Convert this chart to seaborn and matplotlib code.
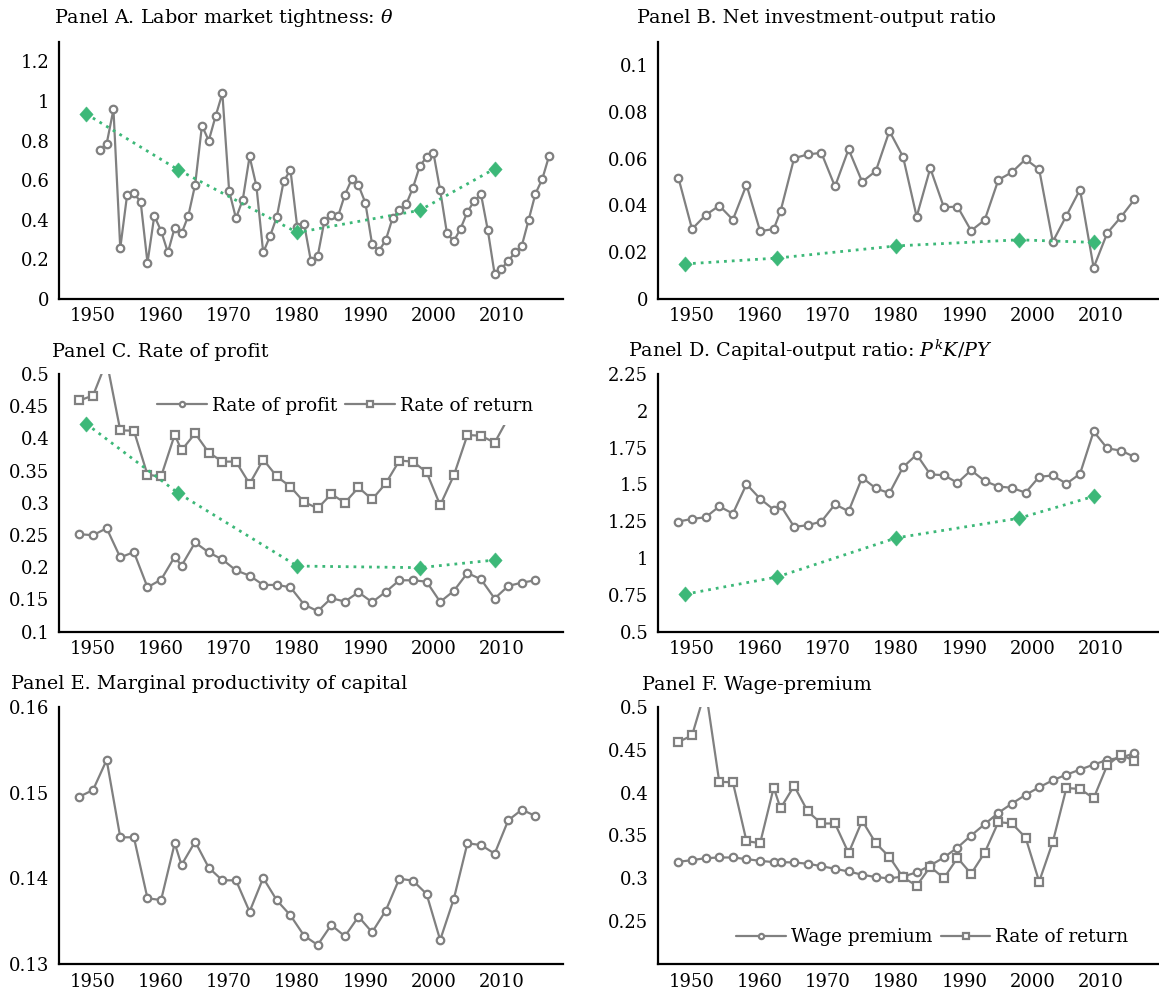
import matplotlib
matplotlib.use("Agg")
import matplotlib.pyplot as plt
import seaborn as sns
import numpy as np
import pandas as pd
from matplotlib.ticker import FixedLocator, FuncFormatter

# ---------------- data ----------------
years_annual = [1951, 1952, 1953, 1954, 1955, 1956, 1957, 1958, 1959, 1960,
                1961, 1962, 1963, 1964, 1965, 1966, 1967, 1968, 1969, 1970,
                1971, 1972, 1973, 1974, 1975, 1976, 1977, 1978, 1979, 1980,
                1981, 1982, 1983, 1984, 1985, 1986, 1987, 1988, 1989, 1990,
                1991, 1992, 1993, 1994, 1995, 1996, 1997, 1998, 1999, 2000,
                2001, 2002, 2003, 2004, 2005, 2006, 2007, 2008, 2009, 2010,
                2011, 2012, 2013, 2014, 2015, 2016, 2017]
theta = [0.755, 0.784, 0.958, 0.257, 0.524, 0.535, 0.490, 0.183, 0.420, 0.344,
         0.235, 0.361, 0.331, 0.421, 0.577, 0.876, 0.800, 0.923, 1.039, 0.545,
         0.408, 0.502, 0.720, 0.571, 0.235, 0.317, 0.415, 0.594, 0.653, 0.364,
         0.381, 0.193, 0.216, 0.396, 0.426, 0.418, 0.527, 0.604, 0.574, 0.487,
         0.277, 0.243, 0.297, 0.408, 0.448, 0.478, 0.562, 0.671, 0.717, 0.740,
         0.549, 0.331, 0.292, 0.356, 0.440, 0.495, 0.529, 0.347, 0.126, 0.153,
         0.193, 0.235, 0.270, 0.400, 0.532, 0.606, 0.723]

years_bien = [1948, 1950, 1952, 1954, 1956, 1958, 1960, 1962, 1963, 1965,
              1967, 1969, 1971, 1973, 1975, 1977, 1979, 1981, 1983, 1985,
              1987, 1989, 1991, 1993, 1995, 1997, 1999, 2001, 2003, 2005,
              2007, 2009, 2011, 2013, 2015]
invest_output = [0.0518, 0.0299, 0.0359, 0.0399, 0.0339, 0.0488, 0.0290, 0.0299, 0.0375, 0.0602,
                 0.0618, 0.0625, 0.0481, 0.0640, 0.0501, 0.0547, 0.0718, 0.0608, 0.0352, 0.0559,
                 0.0392, 0.0395, 0.0292, 0.0338, 0.0509, 0.0542, 0.0598, 0.0554, 0.0245, 0.0356,
                 0.0468, 0.0134, 0.0282, 0.0350, 0.0426]
rate_profit = [0.2513, 0.2498, 0.2606, 0.2153, 0.2236, 0.1690, 0.1808, 0.2163, 0.2024, 0.2385,
               0.2230, 0.2122, 0.1952, 0.1870, 0.1726, 0.1726, 0.1690, 0.1422, 0.1319, 0.1520,
               0.1468, 0.1613, 0.1458, 0.1618, 0.1798, 0.1798, 0.1777, 0.1463, 0.1633, 0.1911,
               0.1813, 0.1515, 0.1710, 0.1762, 0.1798]
rate_return = [0.4590, 0.4665, 0.5200, 0.4125, 0.4120, 0.3435, 0.3410, 0.4058, 0.3816, 0.4078,
               0.3780, 0.3640, 0.3640, 0.3296, 0.3672, 0.3410, 0.3250, 0.3013, 0.2915, 0.3136,
               0.3003, 0.3239, 0.3054, 0.3301, 0.3656, 0.3640, 0.3476, 0.2963, 0.3425, 0.4053,
               0.4042, 0.3934, 0.4318, 0.4442, 0.4368]
capital_output = [1.248, 1.266, 1.277, 1.351, 1.302, 1.502, 1.403, 1.329, 1.358, 1.212,
                  1.223, 1.248, 1.365, 1.318, 1.547, 1.473, 1.441, 1.617, 1.703, 1.568,
                  1.563, 1.511, 1.597, 1.523, 1.486, 1.477, 1.444, 1.552, 1.561, 1.505,
                  1.572, 1.860, 1.745, 1.730, 1.687]
mpk = [0.14952, 0.15030, 0.15380, 0.14479, 0.14479, 0.13768, 0.13749, 0.14409, 0.14157, 0.14428,
       0.14125, 0.13978, 0.13978, 0.13613, 0.14005, 0.13745, 0.13570, 0.13334, 0.13225, 0.13458,
       0.13326, 0.13555, 0.13373, 0.13625, 0.13997, 0.13974, 0.13819, 0.13283, 0.13761, 0.14409,
       0.14389, 0.14288, 0.14677, 0.14801, 0.14727]
wage_premium = [0.3194, 0.3213, 0.3236, 0.3244, 0.3244, 0.3225, 0.3205, 0.3190, 0.3190, 0.3186,
                0.3171, 0.3143, 0.3112, 0.3081, 0.3043, 0.3016, 0.3000, 0.3023, 0.3070, 0.3151,
                0.3244, 0.3360, 0.3500, 0.3632, 0.3764, 0.3872, 0.3973, 0.4062, 0.4143, 0.4209,
                0.4267, 0.4326, 0.4380, 0.4407, 0.4457]

model_years = [1949, 1962.5, 1980, 1998, 2009]
model_theta = [0.935, 0.653, 0.336, 0.448, 0.658]
model_invest = [0.0150, 0.0175, 0.0227, 0.0253, 0.0242]
model_profit = [0.4228, 0.3152, 0.2019, 0.1994, 0.2112]
model_capital = [0.7545, 0.8716, 1.137, 1.270, 1.419]

x_ticks = [1950, 1960, 1970, 1980, 1990, 2000, 2010]

# ---------------- style ----------------
sns.set_style("white")
plt.rcParams["font.family"] = ["DejaVu Serif"]
plt.rcParams["mathtext.fontset"] = "dejavuserif"
plt.rcParams["text.color"] = "black"

GRAY = "#808080"
GREEN = "#3cb878"
FS_TICK = 13
FS_TEXT = 13.8
FS_LEG = 13.3
DIAMOND = [(0, 1), (0.88, 0), (0, -1), (-0.88, 0), (0, 1)]

W, H = 1159, 996
fig = plt.figure(figsize=(W / 100, H / 100), dpi=100)


def add_axes(left_px, top_px, right_px, bottom_px):
    return fig.add_axes([left_px / W, 1 - bottom_px / H,
                         (right_px - left_px) / W, (bottom_px - top_px) / H])


def fmt(v, pos):
    return ("%.4f" % v).rstrip("0").rstrip(".")


def style_axes(ax, ylim, yticks):
    ax.set_xlim(1945, 2019)
    ax.set_ylim(*ylim)
    ax.xaxis.set_major_locator(FixedLocator(x_ticks))
    ax.yaxis.set_major_locator(FixedLocator(yticks))
    ax.yaxis.set_major_formatter(FuncFormatter(fmt))
    ax.xaxis.set_major_formatter(FuncFormatter(lambda v, p: "%d" % v))
    for s in ["top", "right"]:
        ax.spines[s].set_visible(False)
    for s in ["left", "bottom"]:
        ax.spines[s].set_color("black")
        ax.spines[s].set_linewidth(1.6)
    ax.tick_params(axis="both", direction="in", length=7.5, width=0.7,
                   color="#a8a8a8", labelsize=FS_TICK, labelcolor="black")
    ax.tick_params(axis="y", pad=7)
    ax.tick_params(axis="x", pad=6)
    ax.set_xlabel("")
    ax.set_ylabel("")
    ax.set_facecolor("white")


def gray_series(ax, x, y, marker, label=None):
    ms = 5.4
    sns.lineplot(x=x, y=y, ax=ax, color=GRAY, linewidth=1.6, marker=marker,
                 markersize=ms, markerfacecolor="white", markeredgecolor=GRAY,
                 markeredgewidth=1.6, label=label, zorder=3)


def green_series(ax, x, y):
    sns.lineplot(x=x, y=y, ax=ax, color=GREEN, linewidth=2.0,
                 linestyle=(0, (1.0, 1.8)), marker=DIAMOND, markersize=11,
                 markerfacecolor=GREEN, markeredgecolor=GREEN,
                 markeredgewidth=0.3, zorder=4)


def title(x_px, y_px, text):
    fig.text(x_px / W, 1 - y_px / H, text, ha="left", va="baseline",
             fontsize=FS_TEXT, color="black")


def legend(ax, anchor, borderpad):
    h, l = ax.get_legend_handles_labels()
    leg = ax.legend(h[:2], l[:2], ncol=2, loc="center left",
                    bbox_to_anchor=anchor, frameon=True, facecolor="white",
                    edgecolor="none", framealpha=1, fancybox=False,
                    fontsize=FS_LEG, handlelength=2.7, handletextpad=0.25,
                    columnspacing=0.45, borderpad=borderpad, borderaxespad=0,
                    markerscale=0.7)
    for t in leg.get_texts():
        t.set_color("black")
    leg.set_zorder(10)
    return leg


# Panel A
axA = add_axes(59, 41.7, 562.7, 299)
gray_series(axA, years_annual, theta, "o")
green_series(axA, model_years, model_theta)
style_axes(axA, (0, 1.3), [0, 0.2, 0.4, 0.6, 0.8, 1.0, 1.2])
title(54, 23, r"Panel A. Labor market tightness: $\theta$")

# Panel B
axB = add_axes(658, 41.7, 1161.7, 299)
gray_series(axB, years_bien, invest_output, "o")
green_series(axB, model_years, model_invest)
style_axes(axB, (0, 0.11), [0, 0.02, 0.04, 0.06, 0.08, 0.1])
title(637, 23, "Panel B. Net investment-output ratio")

# Panel C
axC = add_axes(59, 374, 562.7, 631.7)
gray_series(axC, years_bien, rate_profit, "o", label="Rate of profit")
gray_series(axC, years_bien, rate_return, "s", label="Rate of return")
green_series(axC, model_years, model_profit)
style_axes(axC, (0.1, 0.5), [0.1, 0.15, 0.2, 0.25, 0.3, 0.35, 0.4, 0.45, 0.5])
legend(axC, (0.1747, 0.876), 0.55)
title(52, 356.7, "Panel C. Rate of profit")

# Panel D
axD = add_axes(658, 374, 1161.7, 631.7)
gray_series(axD, years_bien, capital_output, "o")
green_series(axD, model_years, model_capital)
style_axes(axD, (0.5, 2.25), [0.5, 0.75, 1.0, 1.25, 1.5, 1.75, 2.0, 2.25])
title(628, 356.7, r"Panel D. Capital-output ratio: $P^kK/PY$")

# Panel E
axE = add_axes(59, 706.7, 562.7, 964.3)
gray_series(axE, years_bien, mpk, "o")
style_axes(axE, (0.13, 0.16), [0.13, 0.14, 0.15, 0.16])
title(11, 689, "Panel E. Marginal productivity of capital")

# Panel F
axF = add_axes(658, 706.7, 1161.7, 964.3)
gray_series(axF, years_bien, wage_premium, "o", label="Wage premium")
gray_series(axF, years_bien, rate_return, "s", label="Rate of return")
style_axes(axF, (0.2, 0.5), [0.25, 0.3, 0.35, 0.4, 0.45, 0.5])
legend(axF, (0.141, 0.105), 0.4)
title(642, 690, "Panel F. Wage-premium")

fig.savefig("out.png", dpi=100, facecolor="white")
